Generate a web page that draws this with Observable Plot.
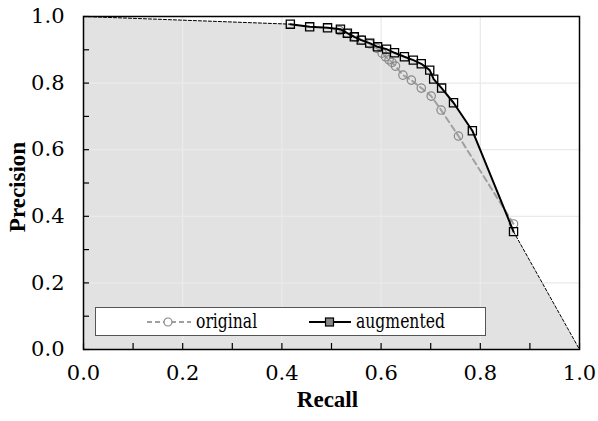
<!DOCTYPE html>
<html>
<head>
<meta charset="utf-8">
<script src="https://cdn.jsdelivr.net/npm/d3@7"></script>
<script src="https://cdn.jsdelivr.net/npm/@observablehq/plot@0.6"></script>
<style>
  body { margin: 0; background: #fff; }
  #wrap { position: relative; width: 598px; height: 421px; }
  #legend {
    position: absolute; left: 95px; top: 307px; width: 391px; height: 29px;
    background: #fff; border: 1px solid #555; box-sizing: border-box;
    font-family: "DejaVu Serif", serif; font-size: 20px; color: #000;
  }
  #legend .item { position: absolute; top: 0; height: 27px; display: flex; align-items: center; white-space: nowrap; }
  #legend svg { display: block; }
  #legend span { display: inline-block; margin-left: 4px; line-height: 27px; transform: scaleX(0.78); transform-origin: 0 50%; }
</style>
</head>
<body>
<div id="wrap"></div>
<script>
// Precision–recall points for the two models
const augRecall    = [0.417, 0.456, 0.492, 0.518, 0.532, 0.546, 0.560, 0.577, 0.593, 0.611, 0.627, 0.647, 0.665, 0.681, 0.698, 0.706, 0.722, 0.746, 0.784, 0.867];
const augPrecision = [0.977, 0.969, 0.966, 0.962, 0.950, 0.939, 0.929, 0.920, 0.909, 0.902, 0.891, 0.879, 0.869, 0.858, 0.839, 0.812, 0.785, 0.741, 0.657, 0.354];

const origRecall    = [0.516, 0.532, 0.547, 0.562, 0.577, 0.591, 0.602, 0.609, 0.616, 0.622, 0.629, 0.644, 0.661, 0.681, 0.701, 0.721, 0.756, 0.867];
const origPrecision = [0.958, 0.949, 0.939, 0.929, 0.918, 0.905, 0.890, 0.879, 0.870, 0.862, 0.851, 0.824, 0.809, 0.785, 0.761, 0.719, 0.641, 0.377];

// Curve end points (recall, precision)
const startPoint = [0, 1];
const endPoint = [1, 0];

const majorTicks = [0, 0.2, 0.4, 0.6, 0.8, 1.0];
const minorTicks = [0, 0.1, 0.2, 0.3, 0.4, 0.5, 0.6, 0.7, 0.8, 0.9, 1.0];

const serif = "'DejaVu Serif', serif";
const serifBold = "'Liberation Serif', serif";

const aug = augRecall.map((r, i) => ({recall: r, precision: augPrecision[i]}));
const orig = origRecall.map((r, i) => ({recall: r, precision: origPrecision[i]}));

// Envelope: start → augmented curve → end
const envelope = [
  {recall: startPoint[0], precision: startPoint[1]},
  ...aug,
  {recall: endPoint[0], precision: endPoint[1]}
];
const first = aug[0], last = aug[aug.length - 1];
const extensions = [
  {seg: "a", recall: startPoint[0], precision: startPoint[1]},
  {seg: "a", recall: first.recall, precision: first.precision},
  {seg: "b", recall: last.recall, precision: last.precision},
  {seg: "b", recall: endPoint[0], precision: endPoint[1]}
];

const fmt = d3.format(".1f");

const chart = Plot.plot({
  width: 598,
  height: 421,
  marginLeft: 83,
  marginRight: 19,
  marginTop: 16,
  marginBottom: 72,
  style: {fontFamily: serif, fontSize: "21px", color: "#000", background: "#fff"},
  x: {domain: [0, 1]},
  y: {domain: [0, 1]},
  marks: [
    Plot.areaY(envelope, {x: "recall", y: "precision", fill: "#e2e2e2", curve: "linear"}),
    Plot.ruleX(majorTicks.slice(1, -1), {stroke: "#eaeaea", strokeWidth: 1.3}),
    Plot.ruleY(majorTicks.slice(1, -1), {stroke: "#eaeaea", strokeWidth: 1.3}),
    Plot.line(extensions, {x: "recall", y: "precision", z: "seg", stroke: "#000", strokeWidth: 1, strokeDasharray: "3,2"}),
    Plot.line(orig, {x: "recall", y: "precision", stroke: "#a0a0a0", strokeWidth: 2, strokeDasharray: "6,4"}),
    Plot.dot(orig, {x: "recall", y: "precision", r: 4.2, stroke: "#888", strokeWidth: 1.2, fill: "none"}),
    Plot.line(aug, {x: "recall", y: "precision", stroke: "#000", strokeWidth: 2}),
    Plot.dot(aug, {x: "recall", y: "precision", symbol: "square", r: 4.6, stroke: "#000", strokeWidth: 1.3, fill: "none"}),
    Plot.axisX(minorTicks, {tickSize: -6, tickFormat: () => "", strokeWidth: 1.2, label: null}),
    Plot.axisY(minorTicks, {tickSize: -6, tickFormat: () => "", strokeWidth: 1.2, label: null}),
    Plot.axisX(majorTicks, {tickSize: 0, tickPadding: 16, tickFormat: fmt, fontSize: 21, fontFamily: serif, label: null}),
    Plot.axisY(majorTicks, {tickSize: 0, tickPadding: 19, tickFormat: fmt, fontSize: 21, fontFamily: serif, label: null}),
    Plot.frame({stroke: "#000", strokeWidth: 1.5}),
    Plot.text(["Recall"], {frameAnchor: "bottom", dx: -4, dy: 57, fontWeight: "bold", fontSize: 23, fontFamily: serifBold}),
    Plot.text(["Precision"], {frameAnchor: "left", textAnchor: "middle", dx: -66, dy: 4, rotate: -90, fontWeight: "bold", fontSize: 23, fontFamily: serifBold})
  ]
});

const wrap = document.getElementById("wrap");
wrap.appendChild(chart);

// Legend box inside the plot area
const legend = document.createElement("div");
legend.id = "legend";
legend.innerHTML = `
  <div class="item" style="left:50px">
    <svg width="46" height="12">
      <line x1="1" y1="6" x2="45" y2="6" stroke="#a0a0a0" stroke-width="2" stroke-dasharray="5,3"/>
      <circle cx="22" cy="6" r="4" fill="#fff" stroke="#888" stroke-width="1.2"/>
    </svg><span>original</span>
  </div>
  <div class="item" style="left:212px">
    <svg width="44" height="12">
      <line x1="1" y1="6" x2="43" y2="6" stroke="#000" stroke-width="2"/>
      <rect x="17.5" y="2" width="8" height="8" fill="#888" stroke="#000" stroke-width="1.2"/>
    </svg><span>augmented</span>
  </div>`;
wrap.appendChild(legend);
</script>
</body>
</html>
